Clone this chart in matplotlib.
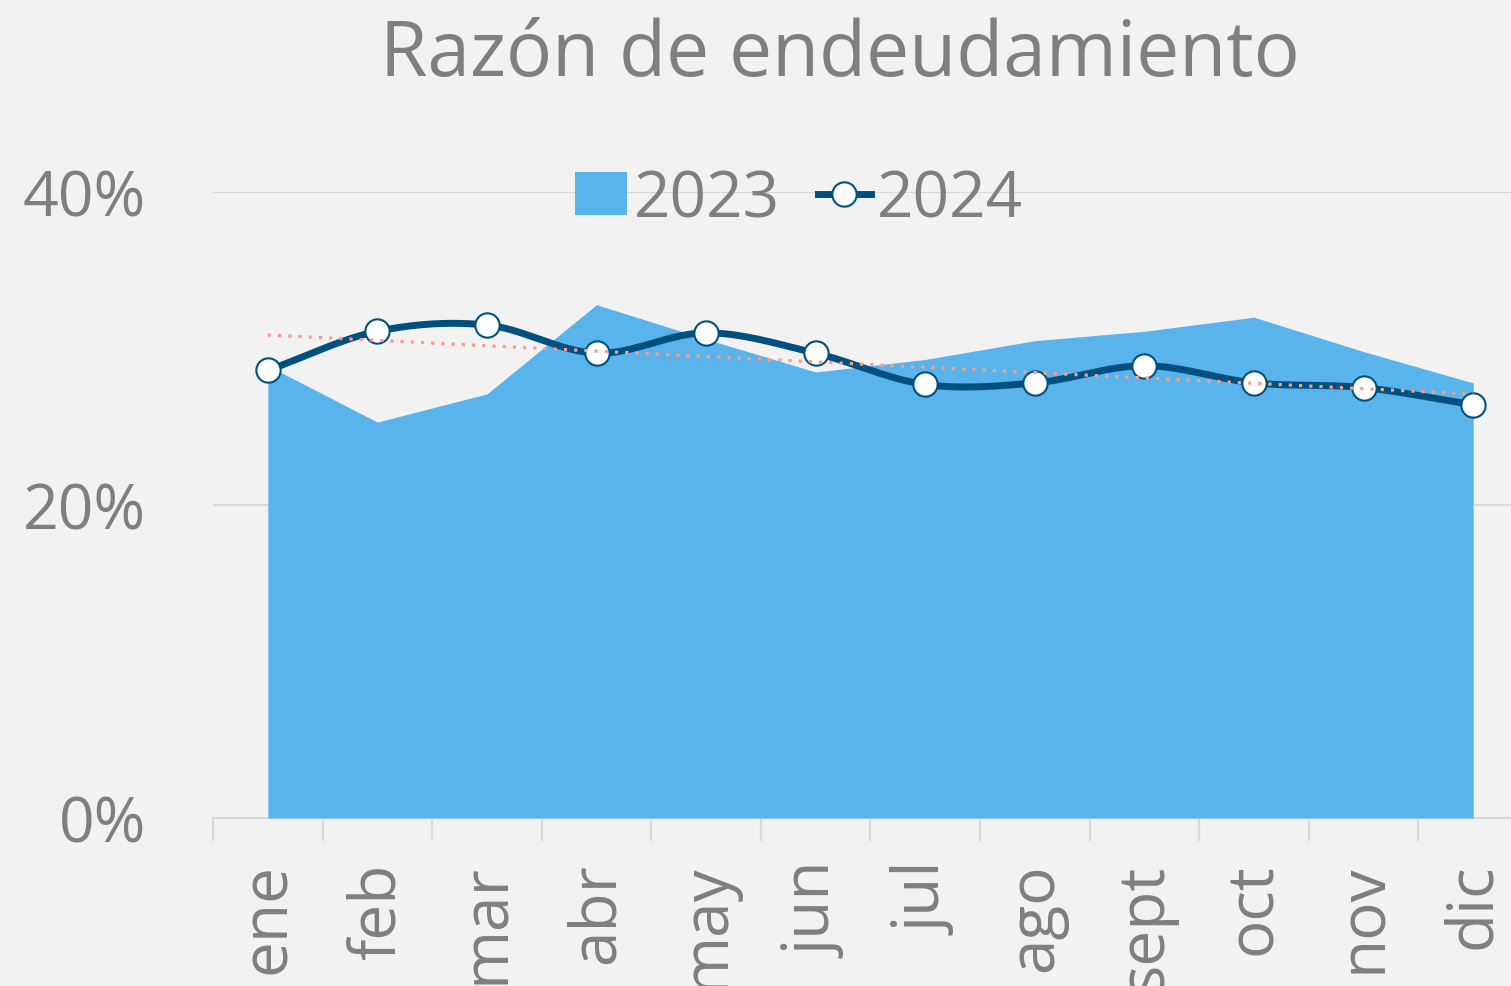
import numpy as np
import matplotlib
matplotlib.use("Agg")
from matplotlib import pyplot as plt
from matplotlib.patches import Patch
from matplotlib.lines import Line2D

plt.rcParams['font.family'] = ['Open Sans', 'DejaVu Sans']

meses = ['ene', 'feb', 'mar', 'abr', 'may', 'jun', 'jul', 'ago', 'sept', 'oct', 'nov', 'dic']
r2023 = [28.9, 25.3, 27.1, 32.8, 30.6, 28.5, 29.3, 30.5, 31.1, 32.0, 29.8, 27.8]
r2024 = [28.6, 31.1, 31.5, 29.7, 31.0, 29.7, 27.7, 27.8, 28.9, 27.8, 27.5, 26.4]

gris = '#7f7f7f'
azul = '#58b4ea'
azul_osc = '#00507f'
fondo = '#f2f2f2'

def catmull_rom(x, y, n=30):
    # curva suavizada tipo Excel entre los puntos
    x = np.asarray(x, float)
    y = np.asarray(y, float)
    px = np.concatenate([[2 * x[0] - x[1]], x, [2 * x[-1] - x[-2]]])
    py = np.concatenate([[2 * y[0] - y[1]], y, [2 * y[-1] - y[-2]]])
    xs, ys = [], []
    t = np.linspace(0, 1, n, endpoint=False)
    for i in range(1, len(px) - 2):
        for p, out in ((px, xs), (py, ys)):
            p0, p1, p2, p3 = p[i - 1], p[i], p[i + 1], p[i + 2]
            out.extend(0.5 * ((2 * p1) + (-p0 + p2) * t
                              + (2 * p0 - 5 * p1 + 4 * p2 - p3) * t ** 2
                              + (-p0 + 3 * p1 - 3 * p2 + p3) * t ** 3))
    xs.append(x[-1])
    ys.append(y[-1])
    return np.array(xs), np.array(ys)

x = np.arange(len(meses))

fig = plt.figure(figsize=(15.11, 9.87), dpi=100, facecolor=fondo)
ax = fig.add_axes([213 / 1511, 1 - 819 / 987, (1528 - 213) / 1511, (819 - 193) / 987])
ax.set_facecolor(fondo)

ax.fill_between(x, 0, r2023, color=azul, lw=0, zorder=2)

xs, ys = catmull_rom(x, r2024)
ax.plot(xs, ys, color=azul_osc, lw=5, zorder=3, solid_capstyle='round')
ax.plot(x, r2024, ls='none', marker='o', ms=17.5, mfc='white', mec=azul_osc, mew=1.5, zorder=4)

# linea de tendencia lineal
m, b = np.polyfit(x, r2024, 1)
ax.plot(x, m * x + b, color='#ff9a8c', lw=2.3, ls=(0, (1, 2.2)), zorder=5)

ax.set_xlim(-0.5, 11.5)
ax.set_ylim(0, 40)
ax.set_yticks([0, 20, 40])
ax.set_yticklabels(['0%', '20%', '40%'])
ax.set_xticks(x)
ax.set_xticklabels(meses, rotation=90)
ax.set_xticks(np.arange(-0.5, 12, 1), minor=True)

ax.grid(axis='y', color='#d9d9d9', lw=1.5, zorder=0)
for s in ['top', 'right', 'left']:
    ax.spines[s].set_visible(False)
ax.spines['bottom'].set_color('#d9d9d9')
ax.spines['bottom'].set_linewidth(1.5)
ax.spines['bottom'].set_zorder(1)

ax.tick_params(axis='y', length=0, pad=48, labelsize=45, labelcolor=gris)
ax.tick_params(axis='x', which='major', length=0, pad=32, labelsize=46, labelcolor=gris)
ax.tick_params(axis='x', which='minor', length=16.5, width=1.5, color='#d9d9d9')

handles = [Patch(facecolor=azul, edgecolor='none'),
           Line2D([], [], color=azul_osc, lw=5, marker='o', ms=17.5, mfc='white', mec=azul_osc, mew=1.5)]
leg = fig.legend(handles, ['2023', '2024'], loc='center', bbox_to_anchor=(799 / 1511, 1 - 200 / 987),
                 ncol=2, frameon=False, fontsize=46, labelcolor=gris, handlelength=0.82,
                 handleheight=0.65, handletextpad=0.1, columnspacing=0.6, borderpad=0)

fig.text(840 / 1511, 1 - 56 / 987, 'Razón de endeudamiento', ha='center', va='center',
         fontsize=55.3, color=gris)

fig.savefig('out.png', dpi=100, facecolor=fondo)
